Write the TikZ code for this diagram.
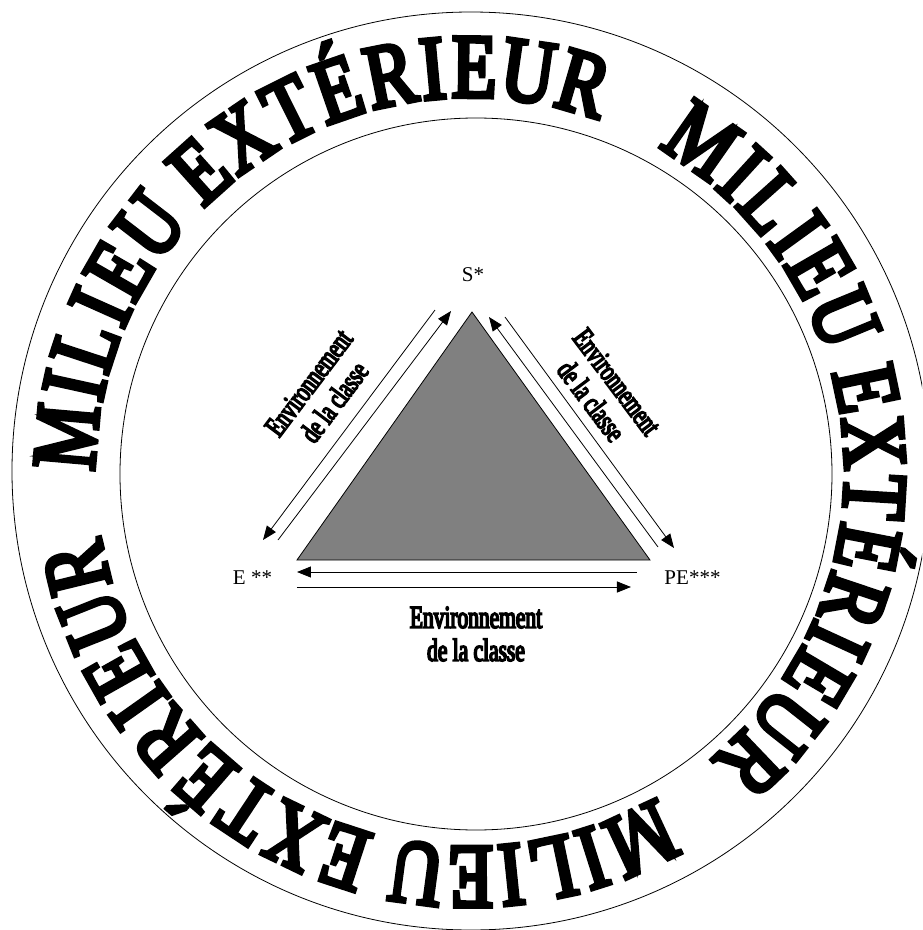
\documentclass[tikz,border=0pt]{standalone}
\usepackage{fontspec}
\setmainfont{Liberation Serif}
\newfontfamily\ringfont{Liberation Serif}[FakeStretch=0.80, FakeBold=5]
\newfontfamily\envfont{Liberation Serif}[FakeStretch=0.67, FakeBold=5]
\usepackage{tikz}
\usetikzlibrary{arrows.meta, calc}
\tikzset{
  ringletter/.style={
    anchor=base, inner sep=0pt,
    font=\ringfont\fontsize{91}{100}\selectfont
  },
  cornerlabel/.style={
    inner sep=0pt, font=\fontsize{21}{24}\selectfont
  },
  envlabel/.style={
    align=center, inner sep=0pt,
    font=\envfont\fontsize{30}{32}\selectfont
  },
  envlabelwide/.style={
    align=center, inner sep=0pt,
    font=\envfont\fontsize{32}{33}\selectfont
  },
  envarrow/.style={
    -{Triangle[length=14pt,width=11pt]}, line width=0.8pt
  },
  ringline/.style={line width=0.8pt},
}

\begin{document}
\begin{tikzpicture}[x=1pt, y=1pt]
  \useasboundingbox (-470,-458) rectangle (452,472);
  \clip (-470,-458) rectangle (452,472);

  % --- Circles ---
  \draw[ringline] (1,1) circle[radius=459];
  \draw[ringline] (6,-2) circle[radius=356];

  % --- Ring text ---
  \foreach \rep in {0,1,2}{
    \foreach \ch/\off [count=\i] in {M/0, I/7.4, L/13.2, I/19.1, E/24.9,
        U/32.6, E/43.1, X/50.8, T/58.5, É/65.9, R/73.6, I/79.7, E/85.6,
        U/93.3, R/101.3}{
      \pgfmathsetmacro\ang{175-120*\rep-\off}
      \node[ringletter, rotate=\ang-90] (ring\rep-\i) at (\ang:375) {\ch};
    }
  }

  % --- Triangle ---
  \coordinate (apex) at (2,160);
  \coordinate (baseL) at (-173,-88);
  \coordinate (baseR) at (180,-88);
  \draw[fill=black!50, line width=0.8pt] (apex) -- (baseL) -- (baseR) -- cycle;

  % --- Corner labels ---
  \node[cornerlabel] (slabel) at (3,197) {S*};
  \node[cornerlabel] (elabel) at (-217.5,-105.5) {E **};
  \node[cornerlabel] (pelabel) at (222.5,-105.5) {PE***};

  % --- Arrows: left side ---
  \coordinate (lo-start) at (-35,162);
  \coordinate (lo-end) at (-207,-68);
  \coordinate (li-start) at (-192,-68);
  \coordinate (li-end) at (-19,161);
  \draw[envarrow] (lo-start) -- (lo-end);
  \draw[envarrow] (li-start) -- (li-end);

  % --- Arrows: right side ---
  \coordinate (ri-start) at (188,-75);
  \coordinate (ri-end) at (19,155);
  \coordinate (ro-start) at (35,155);
  \coordinate (ro-end) at (204,-76);
  \draw[envarrow] (ri-start) -- (ri-end);
  \draw[envarrow] (ro-start) -- (ro-end);

  % --- Arrows: base ---
  \coordinate (bt-start) at (167,-100);
  \coordinate (bt-end) at (-173,-100);
  \coordinate (bb-start) at (-173,-115);
  \coordinate (bb-end) at (161,-115);
  \draw[envarrow] (bt-start) -- (bt-end);
  \draw[envarrow] (bb-start) -- (bb-end);

  % --- Side labels ---
  \node[envlabel, rotate=53] (envleft) at (-148.5,79.5)
    {Environnement\\de la classe};
  \node[envlabel, rotate=-53] (envright) at (134,80.5)
    {Environnement\\de la classe};
  \node[envlabelwide] (envbase) at (6,-162)
    {Environnement\\de la classe};
\end{tikzpicture}
\end{document}
